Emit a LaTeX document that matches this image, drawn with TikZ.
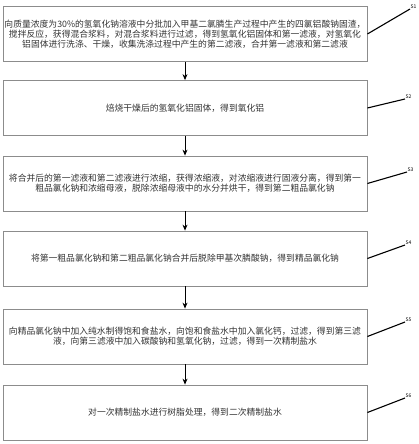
\documentclass[tikz,border=0pt]{standalone}
\usepackage{fontspec}
\newfontfamily\cjk{Noto Sans CJK SC}
\usetikzlibrary{arrows.meta}

\tikzset{
 stepbox/.style={draw=black!45,line width=0.8pt,minimum width=364pt,minimum height=55pt,
   align=center,text=black!80,font=\cjk\fontsize{8.8pt}{10pt}\selectfont,inner sep=0pt},
 steplabel/.style={font=\cjk\fontsize{5pt}{6pt}\selectfont,inner sep=0.5pt,anchor=south west},
 flow/.style={line width=0.8pt,-{Stealth[length=6pt,width=5pt]}},
 tag/.style={line width=1.1pt}
}

\begin{document}
\begin{tikzpicture}[x=1pt,y=-1pt]
 \useasboundingbox (0,0) rectangle (419,444);
 % steps
 \node[stepbox] (s1) at (185,34) {向质量浓度为30\%的氢氧化钠溶液中分批加入甲基二氯膦生产过程中产生的四氯铝酸钠固渣，\\搅拌反应，获得混合浆料，对混合浆料进行过滤，得到氢氧化铝固体和第一滤液，对氢氧化\\铝固体进行洗涤、干燥，收集洗涤过程中产生的第二滤液，合并第一滤液和第二滤液};
 \node[stepbox] (s2) at (185,108) {焙烧干燥后的氢氧化铝固体，得到氧化铝};
 \node[stepbox] (s3) at (185,183.5) {将合并后的第一滤液和第二滤液进行浓缩，获得浓缩液，对浓缩液进行固液分离，得到第一\\粗品氯化钠和浓缩母液，脱除浓缩母液中的水分并烘干，得到第二粗品氯化钠};
 \node[stepbox] (s4) at (185,258.5) {将第一粗品氯化钠和第二粗品氯化钠合并后脱除甲基次膦酸钠，得到精品氯化钠};
 \node[stepbox] (s5) at (185,336.5) {向精品氯化钠中加入纯水制得饱和食盐水，向饱和食盐水中加入氯化钙，过滤，得到第三滤\\液，向第三滤液中加入碳酸钠和氢氧化钠，过滤，得到一次精制盐水};
 \node[stepbox] (s6) at (185,412.5) {对一次精制盐水进行树脂处理，得到二次精制盐水};
 % labels
 \node[steplabel] (l1) at (410,9) {S1};
 \node[steplabel] (l2) at (405,99) {S2};
 \node[steplabel] (l3) at (407,172) {S3};
 \node[steplabel] (l4) at (405,245) {S4};
 \node[steplabel] (l5) at (405,322) {S5};
 \node[steplabel] (l6) at (405,398) {S6};
 \draw[tag] (s1.east) -- (l1.south west);
 \draw[tag] (s2.east) -- (l2.south west);
 \draw[tag] (s3.east) -- (l3.south west);
 \draw[tag] (s4.east) -- (l4.south west);
 \draw[tag] (s5.east) -- (l5.south west);
 \draw[tag] (s6.east) -- (l6.south west);
 % arrows
 \draw[flow] (s1) -- (s2);
 \draw[flow] (s2) -- (s3);
 \draw[flow] (s3) -- (s4);
 \draw[flow] (s4) -- (s5);
 \draw[flow] (s5) -- (s6);
\end{tikzpicture}
\end{document}
